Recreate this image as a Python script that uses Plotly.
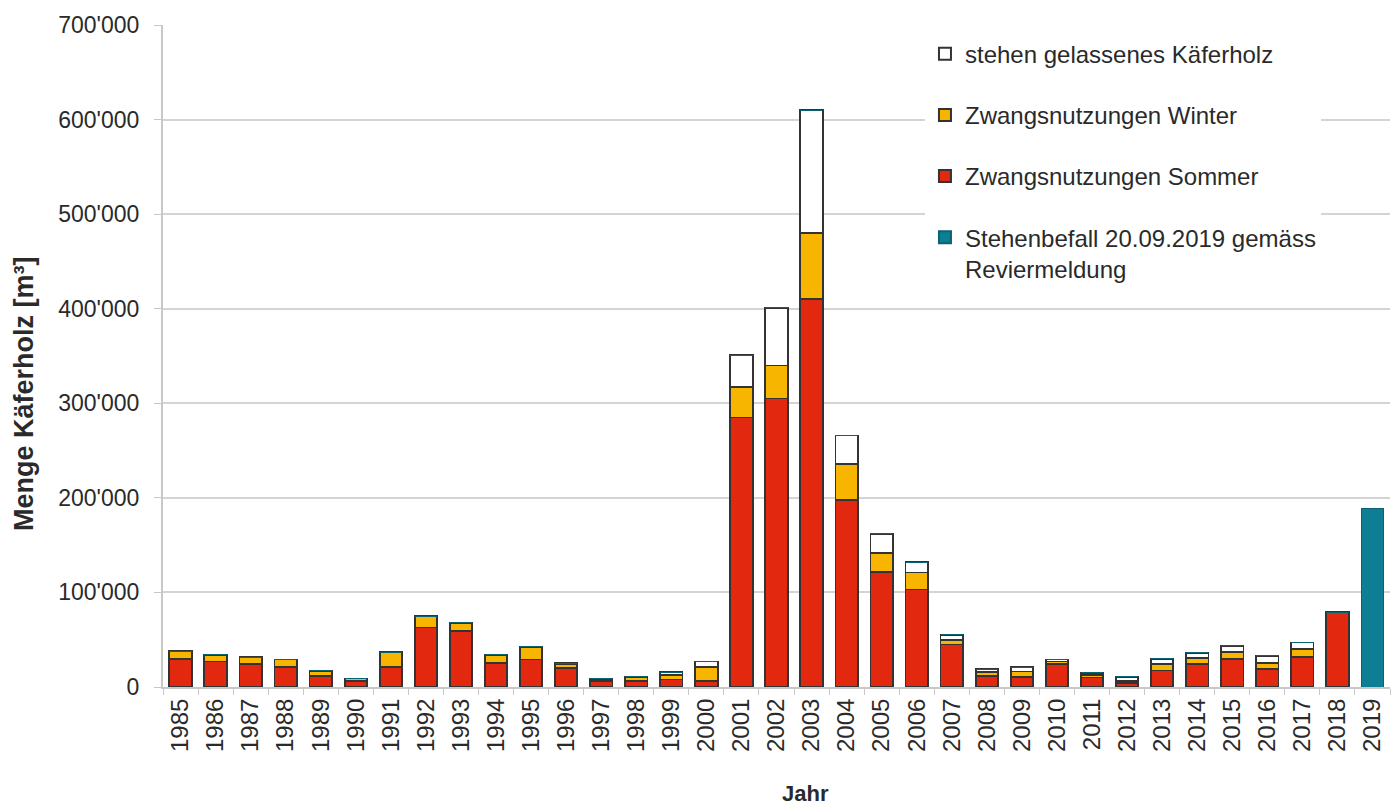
import plotly.graph_objects as go

years = [str(y) for y in range(1985, 2020)]

sommer = [30000, 27000, 24500, 21500, 11500, 6000, 21000, 63000, 59000, 25500,
          29000, 20000, 6000, 6500, 8000, 6000, 285000, 305000, 410000, 198000,
          122000, 103000, 45000, 11500, 11000, 24500, 10000, 4000, 17500, 24500,
          30000, 19000, 31500, 79000, 0]
winter = [8000, 7000, 7000, 7500, 5500, 3000, 16000, 12000, 9000, 8500,
          13500, 4000, 2000, 4500, 5000, 15000, 32000, 35000, 70000, 38000,
          20000, 18000, 5000, 4000, 5500, 2500, 3000, 2500, 7000, 6000,
          7000, 6500, 8500, 0, 0]
stehen = [0, 0, 0, 0, 0, 0, 0, 0, 0, 0,
          0, 1000, 1000, 0, 2500, 6000, 34000, 61000, 130000, 30000,
          20000, 11000, 5000, 3500, 4500, 2000, 2000, 4500, 5500, 5500,
          6500, 7500, 7000, 0, 0]
befall = [0] * 34 + [189000]

y_ticks = [0, 100000, 200000, 300000, 400000, 500000, 600000, 700000]
y_labels = ["0", "100'000", "200'000", "300'000", "400'000", "500'000", "600'000", "700'000"]

outline = dict(color="#333333", width=1.8)
fig = go.Figure()
fig.add_trace(go.Bar(x=years, y=sommer, name="Zwangsnutzungen Sommer",
                     marker=dict(color="#e2290f", line=outline),
                     legendrank=3, legendgroup="c"))
fig.add_trace(go.Bar(x=years, y=winter, name="Zwangsnutzungen Winter",
                     marker=dict(color="#f7b500", line=outline),
                     legendrank=2, legendgroup="b"))
fig.add_trace(go.Bar(x=years, y=stehen, name="stehen gelassenes Käferholz",
                     marker=dict(color="#ffffff", line=outline),
                     legendrank=1, legendgroup="a"))
fig.add_trace(go.Bar(x=years, y=befall, name="Stehenbefall 20.09.2019 gemäss<br>Reviermeldung",
                     marker=dict(color="#0e7e95", line=dict(color="#0b6273", width=1)),
                     legendrank=4, legendgroup="d"))

fig.update_layout(
    barmode="stack",
    bargap=0.36,
    width=1395, height=805,
    margin=dict(l=163, r=5, t=25, b=118),
    paper_bgcolor="white", plot_bgcolor="white",
    font=dict(family="Liberation Sans, Arial, sans-serif", color="#2a2a2a"),
    showlegend=True,
    legend=dict(x=0.621, y=0.99, xanchor="left", yanchor="top",
                bgcolor="white", traceorder="grouped", tracegroupgap=27,
                valign="top",
                font=dict(size=24, color="#2a2a2a"),
                itemwidth=30, itemsizing="constant",
                entrywidth=440, entrywidthmode="pixels"),
    xaxis=dict(type="category", tickangle=-90, tickfont=dict(size=24),
               showline=True, linecolor="#c8c8c8", linewidth=2,
               ticks="outside", tickson="boundaries", ticklen=6, tickcolor="#c8c8c8",
               showgrid=False),
    yaxis=dict(range=[0, 700000], tickvals=y_ticks, ticktext=y_labels,
               tickfont=dict(size=23), ticklabelstandoff=10,
               showline=True, linecolor="#c8c8c8", linewidth=2,
               ticks="outside", ticklen=7, tickcolor="#c8c8c8",
               showgrid=True, gridcolor="#d4d4d4", gridwidth=2,
               zeroline=False),
    annotations=[
        dict(text="<b>Jahr</b>", xref="paper", yref="paper",
             x=0.524, y=-0.161, xanchor="center", yanchor="middle",
             showarrow=False, font=dict(size=22)),
        dict(text="<b>Menge Käferholz [m³]</b>", xref="paper", yref="paper",
             x=-0.1133, y=0.444, xanchor="center", yanchor="middle", textangle=-90,
             showarrow=False, font=dict(size=27)),
    ],
)

fig.write_html("out.html", config={"displayModeBar": False},
               post_script="document.body.style.margin='0';")
